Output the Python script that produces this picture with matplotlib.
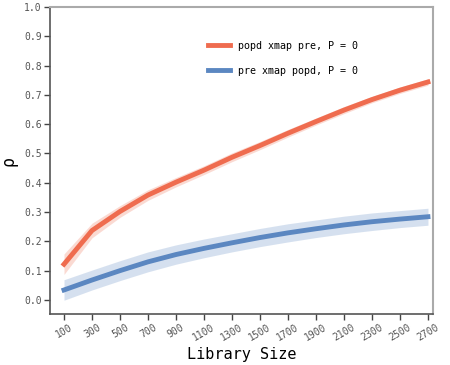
import matplotlib
matplotlib.use('Agg')
import matplotlib.pyplot as plt
import numpy as np

LIB_SIZE = [100, 300, 500, 700, 900, 1100, 1300, 1500, 1700, 1900, 2100,
            2300, 2500, 2700]

# popd xmap pre
RHO_POPD = [0.122, 0.237, 0.302, 0.358, 0.402, 0.443, 0.487, 0.527, 0.569,
            0.609, 0.648, 0.684, 0.716, 0.744]
RHO_POPD_LO = [0.087, 0.212, 0.282, 0.340, 0.386, 0.428, 0.472, 0.513,
               0.556, 0.597, 0.636, 0.673, 0.705, 0.733]
RHO_POPD_HI = [0.157, 0.262, 0.322, 0.376, 0.418, 0.458, 0.502, 0.541,
               0.582, 0.621, 0.660, 0.695, 0.727, 0.755]

# pre xmap popd
RHO_PRE = [0.034, 0.068, 0.100, 0.130, 0.155, 0.176, 0.195, 0.213, 0.229,
           0.243, 0.256, 0.267, 0.276, 0.284]
RHO_PRE_LO = [-0.001, 0.034, 0.066, 0.096, 0.122, 0.144, 0.164, 0.182,
              0.198, 0.213, 0.226, 0.237, 0.247, 0.255]
RHO_PRE_HI = [0.069, 0.102, 0.134, 0.164, 0.188, 0.208, 0.226, 0.244,
              0.260, 0.273, 0.286, 0.297, 0.305, 0.313]

ORANGE = '#ef6c4f'
BLUE = '#5b87c1'

plt.rcParams['font.family'] = ['DejaVu Sans Mono']

fig = plt.figure(figsize=(4.5, 3.65), dpi=100)
ax = fig.add_axes([50 / 450, 51 / 365, 383 / 450, 307 / 365])

x = np.array(LIB_SIZE)
ax.fill_between(x, RHO_POPD_LO, RHO_POPD_HI, color=ORANGE, alpha=0.25,
                linewidth=0)
ax.plot(x, RHO_POPD, color=ORANGE, linewidth=3.5,
        label='popd xmap pre, P = 0')
ax.fill_between(x, RHO_PRE_LO, RHO_PRE_HI, color=BLUE, alpha=0.25,
                linewidth=0)
ax.plot(x, RHO_PRE, color=BLUE, linewidth=3.5,
        label='pre xmap popd, P = 0')

ax.set_xlim(0, 2736)
ax.set_ylim(-0.048, 1.0)
ax.set_xticks(LIB_SIZE)
ax.set_xticklabels([str(v) for v in LIB_SIZE], rotation=30)
ax.set_yticks(np.arange(0, 1.01, 0.1))
ax.set_yticklabels(['{0:.1f}'.format(v) for v in np.arange(0, 1.01, 0.1)])
ax.tick_params(axis='both', labelsize=7, labelcolor='#555555',
               color='#444444', length=4, width=1, pad=2)

for side in ('left', 'bottom'):
    ax.spines[side].set_color('#555555')
    ax.spines[side].set_linewidth(1.2)
for side in ('top', 'right'):
    ax.spines[side].set_color('#aaaaaa')
    ax.spines[side].set_linewidth(1.5)

ax.set_xlabel('Library Size', fontsize=11, labelpad=3)
ax.set_ylabel('ρ', fontsize=12)
ax.yaxis.set_label_coords(-0.085, 0.5)

ax.legend(loc='upper left', bbox_to_anchor=(0.39, 0.92), frameon=False,
          fontsize=7.2, handlelength=2.2, labelspacing=1.5)

fig.savefig('out.png', dpi=100)
